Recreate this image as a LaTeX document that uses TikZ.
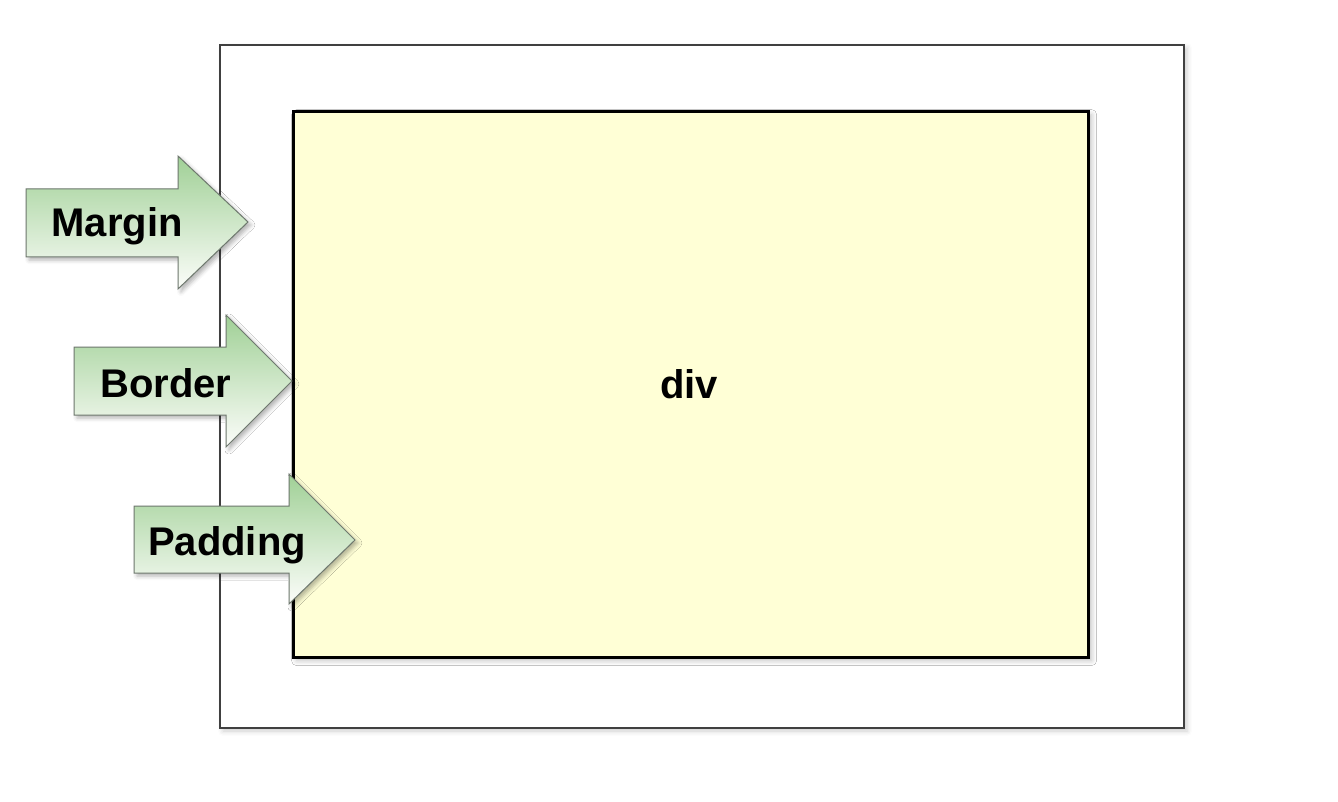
\documentclass[tikz,border=0pt]{standalone}
\usepackage{fontspec}
\setmainfont{Liberation Sans}
\usetikzlibrary{shadows.blur}
\definecolor{divfill}{RGB}{255,255,214}
\definecolor{arrowgreen}{RGB}{160,208,150}
\definecolor{arrowwhite}{RGB}{252,253,250}
\definecolor{arrowedge}{RGB}{110,120,110}
\tikzset{
  outerbox/.style={draw=black!75, line width=1.2pt, fill=white,
    blur shadow={shadow xshift=3pt, shadow yshift=-3pt, shadow blur radius=5pt, shadow opacity=20}},
  divbox/.style={draw=black, line width=3.2pt, fill=divfill,
    blur shadow={shadow xshift=3pt, shadow yshift=-3pt, shadow blur radius=5pt, shadow opacity=25}},
  bigarrow/.style={draw=arrowedge, line width=1pt, top color=arrowgreen, bottom color=arrowwhite,
    line join=miter,
    blur shadow={shadow xshift=3pt, shadow yshift=-3pt, shadow blur radius=4pt, shadow opacity=30}},
  lbl/.style={font=\bfseries\fontsize{40}{48}\selectfont, text=black, inner sep=0pt, anchor=base},
}
\begin{document}
\begin{tikzpicture}[x=1pt,y=-1pt]
\useasboundingbox (0,0) rectangle (1338,802);
% outer margin box
\draw[outerbox] (220,45) rectangle (1184,728);
% div box
\node[divbox, minimum width=795pt, minimum height=546pt, inner sep=0pt, anchor=north west] (div) at (292,110) {};
\node[lbl] (divlabel) at (689,398) {div};
% Margin arrow
\path[bigarrow] (26,189) -- (178,189) -- (178,156) -- (248,222) -- (178,289) -- (178,257) -- (26,257) -- cycle;
\node[lbl] (margin) at (117,237) {Margin};
% Border arrow
\path[bigarrow] (74,347) -- (226,347) -- (226,315) -- (292,381) -- (226,447) -- (226,415) -- (74,415) -- cycle;
\node[lbl] (border) at (166,397) {Border};
% Padding arrow
\path[bigarrow] (134,506) -- (289,506) -- (289,474) -- (355,540) -- (289,604) -- (289,573) -- (134,573) -- cycle;
\node[lbl] (padding) at (227,555) {Padding};
\end{tikzpicture}
\end{document}
